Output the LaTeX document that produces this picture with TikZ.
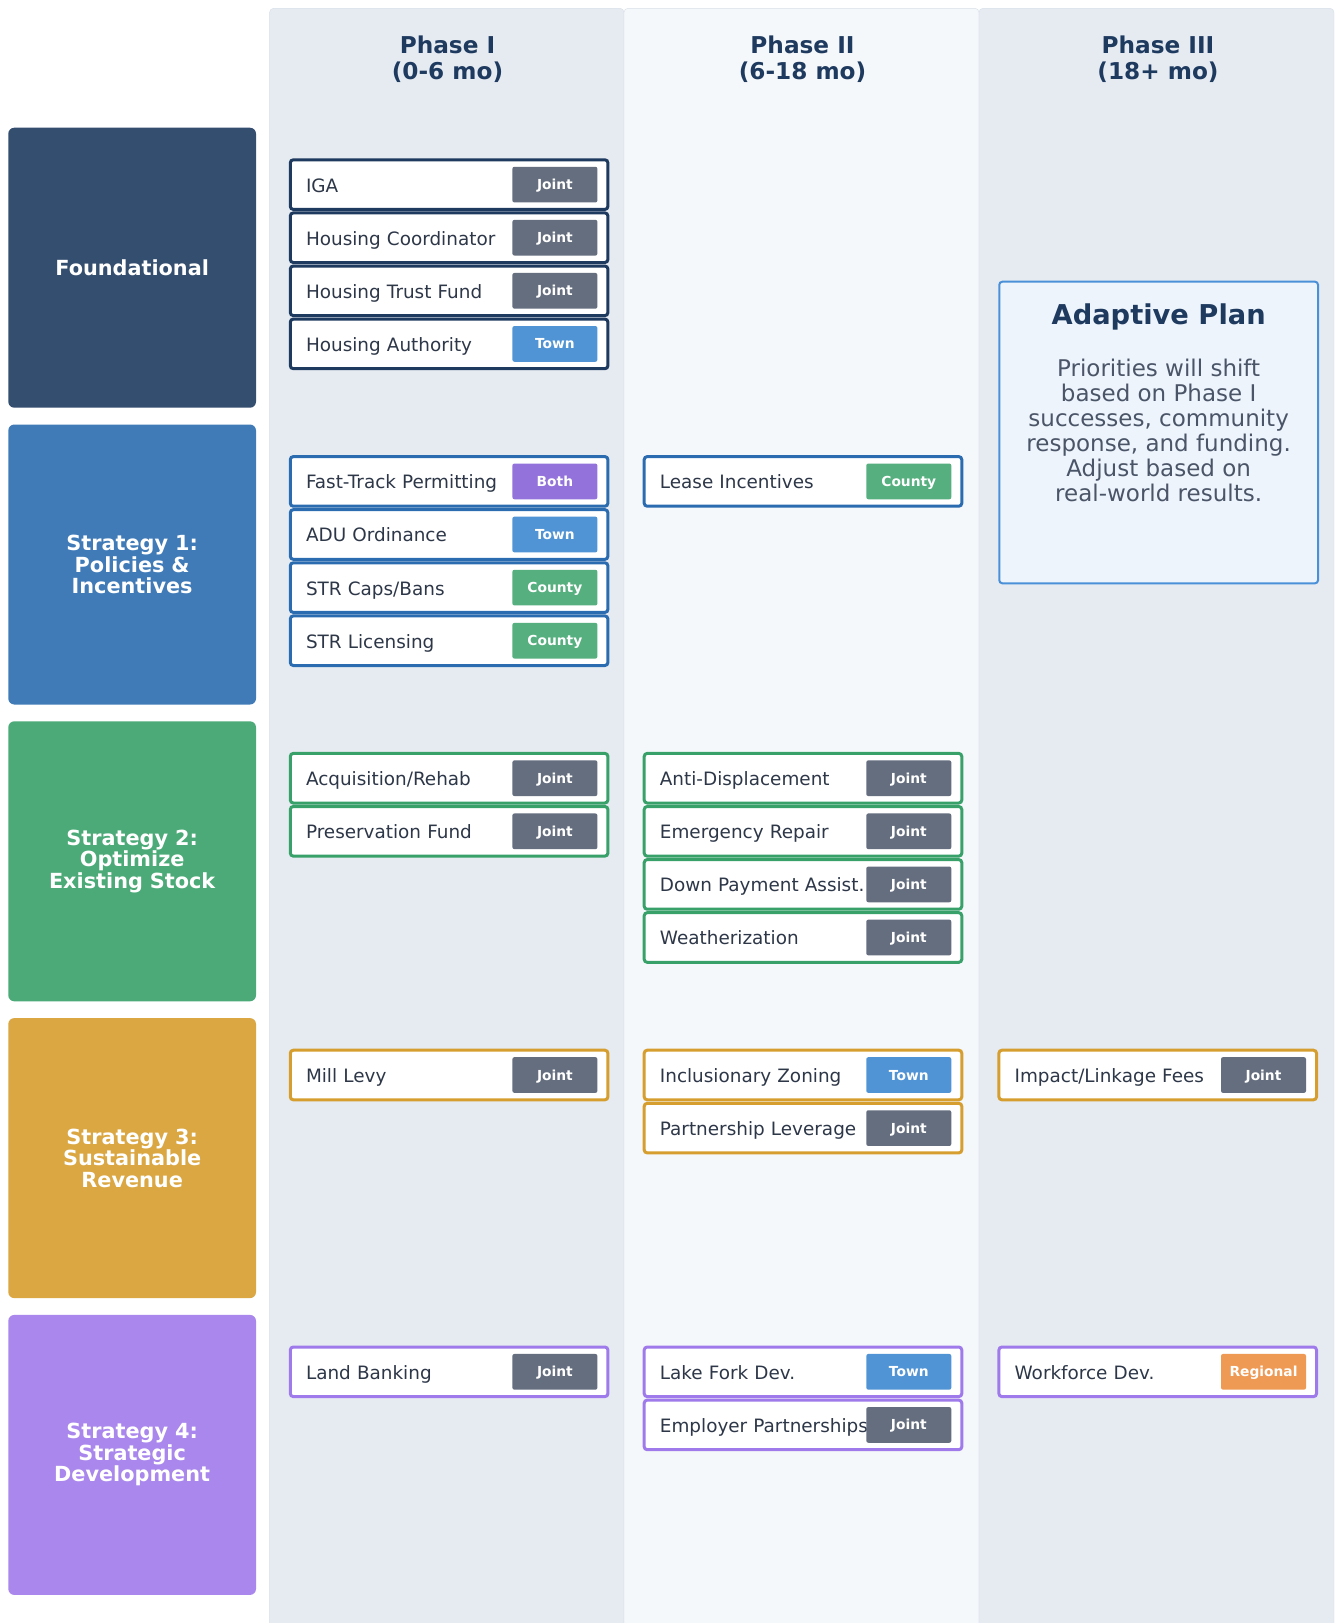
\documentclass[tikz,border=0pt]{standalone}
\usepackage{fontspec}
\setmainfont{DejaVu Sans}
\usepackage{xcolor}
\usetikzlibrary{positioning}

\definecolor{cband}{HTML}{E6EBF2}
\definecolor{cbandmid}{HTML}{F5F8FA}
\definecolor{cbandline}{HTML}{D8DFE8}
\definecolor{ctitle}{HTML}{1E3A5F}
\definecolor{ctext}{HTML}{2D3748}
\definecolor{cbody}{HTML}{4A5568}
% row colours (border / label)
\definecolor{cfound}{HTML}{1E3A5F}
\definecolor{lfound}{HTML}{344E6F}
\definecolor{cone}{HTML}{2B6CB0}
\definecolor{lone}{HTML}{407BB8}
\definecolor{ctwo}{HTML}{38A169}
\definecolor{ltwo}{HTML}{4CAA78}
\definecolor{cthree}{HTML}{D69E2E}
\definecolor{lthree}{HTML}{DAA743}
\definecolor{cfour}{HTML}{9F7AEA}
\definecolor{lfour}{HTML}{A987EC}
% badge colours
\definecolor{bjoint}{HTML}{656E7E}
\definecolor{btown}{HTML}{5094D5}
\definecolor{bcounty}{HTML}{56AF7F}
\definecolor{bboth}{HTML}{9372DB}
\definecolor{bregional}{HTML}{EF9A54}
\definecolor{cplan}{HTML}{4A90D9}
\definecolor{cplanfill}{HTML}{EEF4FC}

\begin{document}
\begin{tikzpicture}[
    x=1pt, y=-1pt,
    rowhead/.style={fill=#1, rounded corners=6pt, minimum width=247.7pt, minimum height=280pt, text width=230pt, align=center, inner sep=0pt, outer sep=0pt, text=white, font=\bfseries\fontsize{20.8}{21.5}\selectfont},
    phasehead/.style={align=center, text=ctitle, font=\bfseries\fontsize{23.2}{26}\selectfont},
    item/.style={draw=#1, line width=3pt, rounded corners=3pt, fill=white, minimum width=317.6pt, minimum height=49.6pt, text width=286.2pt, inner xsep=15.7pt, inner ysep=0pt, outer sep=1.5pt, align=left, text=ctext, font=\fontsize{18.4}{20}\selectfont, text height=15.4pt, text depth=0.6pt},
    badge/.style={fill=#1, rounded corners=2pt, minimum width=85pt, minimum height=35.7pt, inner sep=0pt, outer sep=0pt, anchor=east, text=white, font=\bfseries\fontsize{13.8}{16}\selectfont, text height=10pt, text depth=0pt},
    planbox/.style={draw=cplan, line width=2pt, fill=cplanfill, rounded corners=3pt, minimum width=318.7pt, minimum height=301.6pt, outer sep=0pt}
]
    \fill[white] (0,0) rectangle (1336,1623);
    \useasboundingbox (0,0) rectangle (1336,1623);

    % phase columns
    \filldraw[fill=cband, draw=cbandline, rounded corners=4pt] (269.6,8.3) rectangle (624,1650);
    \filldraw[fill=cbandmid, draw=cbandline, rounded corners=4pt] (624,8.3) rectangle (979,1650);
    \filldraw[fill=cband, draw=cbandline, rounded corners=4pt] (979,8.3) rectangle (1334,1650);

    \node[phasehead] (ph1) at (447.5,59.7) {Phase I\\(0-6 mo)};
    \node[phasehead] (ph2) at (802.5,59.7) {Phase II\\(6-18 mo)};
    \node[phasehead] (ph3) at (1158,59.7) {Phase III\\(18+ mo)};

    % strategy rows
    \node[rowhead=lfound] (found) at (132.15,267.7) {Foundational};
    \node[rowhead=lone, below=16.8pt of found] (sone) {Strategy 1:\\Policies \&\\Incentives};
    \node[rowhead=ltwo, below=16.8pt of sone] (stwo) {Strategy 2:\\Optimize\\Existing Stock};
    \node[rowhead=lthree, below=16.8pt of stwo] (sthree) {Strategy 3:\\Sustainable\\Revenue};
    \node[rowhead=lfour, below=16.8pt of sthree] (sfour) {Strategy 4:\\Strategic\\Development};

    % foundational
    \node[item=cfound, anchor=north west] (iga) at ([xshift=32.8pt, yshift=-30.6pt]found.north east) {IGA};
    \node[badge=bjoint] (igab) at ([xshift=-12pt]iga.east) {Joint};
    \node[item=cfound, below=0.5pt of iga] (coord) {Housing Coordinator};
    \node[badge=bjoint] (coordb) at ([xshift=-12pt]coord.east) {Joint};
    \node[item=cfound, below=0.5pt of coord] (trust) {Housing Trust Fund};
    \node[badge=bjoint] (trustb) at ([xshift=-12pt]trust.east) {Joint};
    \node[item=cfound, below=0.5pt of trust] (auth) {Housing Authority};
    \node[badge=btown] (authb) at ([xshift=-12pt]auth.east) {Town};

    % strategy 1
    \node[item=cone, anchor=north west] (fast) at ([xshift=32.8pt, yshift=-30.6pt]sone.north east) {Fast-Track Permitting};
    \node[badge=bboth] (fastb) at ([xshift=-12pt]fast.east) {Both};
    \node[item=cone, below=0.5pt of fast] (adu) {ADU Ordinance};
    \node[badge=btown] (adub) at ([xshift=-12pt]adu.east) {Town};
    \node[item=cone, below=0.5pt of adu] (strcap) {STR Caps/Bans};
    \node[badge=bcounty] (strcapb) at ([xshift=-12pt]strcap.east) {County};
    \node[item=cone, below=0.5pt of strcap] (strlic) {STR Licensing};
    \node[badge=bcounty] (strlicb) at ([xshift=-12pt]strlic.east) {County};
    \node[item=cone, right=33.3pt of fast] (lease) {Lease Incentives};
    \node[badge=bcounty] (leaseb) at ([xshift=-12pt]lease.east) {County};

    % strategy 2
    \node[item=ctwo, anchor=north west] (acq) at ([xshift=32.8pt, yshift=-30.6pt]stwo.north east) {Acquisition/Rehab};
    \node[badge=bjoint] (acqb) at ([xshift=-12pt]acq.east) {Joint};
    \node[item=ctwo, below=0.5pt of acq] (pres) {Preservation Fund};
    \node[badge=bjoint] (presb) at ([xshift=-12pt]pres.east) {Joint};
    \node[item=ctwo, right=33.3pt of acq] (anti) {Anti-Displacement};
    \node[badge=bjoint] (antib) at ([xshift=-12pt]anti.east) {Joint};
    \node[item=ctwo, below=0.5pt of anti] (repair) {Emergency Repair};
    \node[badge=bjoint] (repairb) at ([xshift=-12pt]repair.east) {Joint};
    \node[item=ctwo, below=0.5pt of repair] (down) {Down Payment Assist.};
    \node[badge=bjoint] (downb) at ([xshift=-12pt]down.east) {Joint};
    \node[item=ctwo, below=0.5pt of down] (weather) {Weatherization};
    \node[badge=bjoint] (weatherb) at ([xshift=-12pt]weather.east) {Joint};

    % strategy 3
    \node[item=cthree, anchor=north west] (levy) at ([xshift=32.8pt, yshift=-30.6pt]sthree.north east) {Mill Levy};
    \node[badge=bjoint] (levyb) at ([xshift=-12pt]levy.east) {Joint};
    \node[item=cthree, right=33.3pt of levy] (incl) {Inclusionary Zoning};
    \node[badge=btown] (inclb) at ([xshift=-12pt]incl.east) {Town};
    \node[item=cthree, below=0.5pt of incl] (partner) {Partnership Leverage};
    \node[badge=bjoint] (partnerb) at ([xshift=-12pt]partner.east) {Joint};
    \node[item=cthree, right=34.1pt of incl] (impact) {Impact/Linkage Fees};
    \node[badge=bjoint] (impactb) at ([xshift=-12pt]impact.east) {Joint};

    % strategy 4
    \node[item=cfour, anchor=north west] (land) at ([xshift=32.8pt, yshift=-30.6pt]sfour.north east) {Land Banking};
    \node[badge=bjoint] (landb) at ([xshift=-12pt]land.east) {Joint};
    \node[item=cfour, right=33.3pt of land] (lake) {Lake Fork Dev.};
    \node[badge=btown] (lakeb) at ([xshift=-12pt]lake.east) {Town};
    \node[item=cfour, below=0.5pt of lake] (employer) {Employer Partnerships};
    \node[badge=bjoint] (employerb) at ([xshift=-12pt]employer.east) {Joint};
    \node[item=cfour, right=34.1pt of lake] (workforce) {Workforce Dev.};
    \node[badge=bregional] (workforceb) at ([xshift=-12pt]workforce.east) {Regional};

    % adaptive plan note
    \node[planbox] (plan) at (1158.65,432.5) {};
    \node[text=ctitle, font=\bfseries\fontsize{27.3}{30}\selectfont] (ptitle) at ([yshift=-35pt]plan.north) {Adaptive Plan};
    \node[align=center, text=cbody, font=\fontsize{23}{25}\selectfont] (pbody) at ([yshift=-149pt]plan.north) {Priorities will shift\\based on Phase I\\successes, community\\response, and funding.\\Adjust based on\\real-world results.};
\end{tikzpicture}
\end{document}
